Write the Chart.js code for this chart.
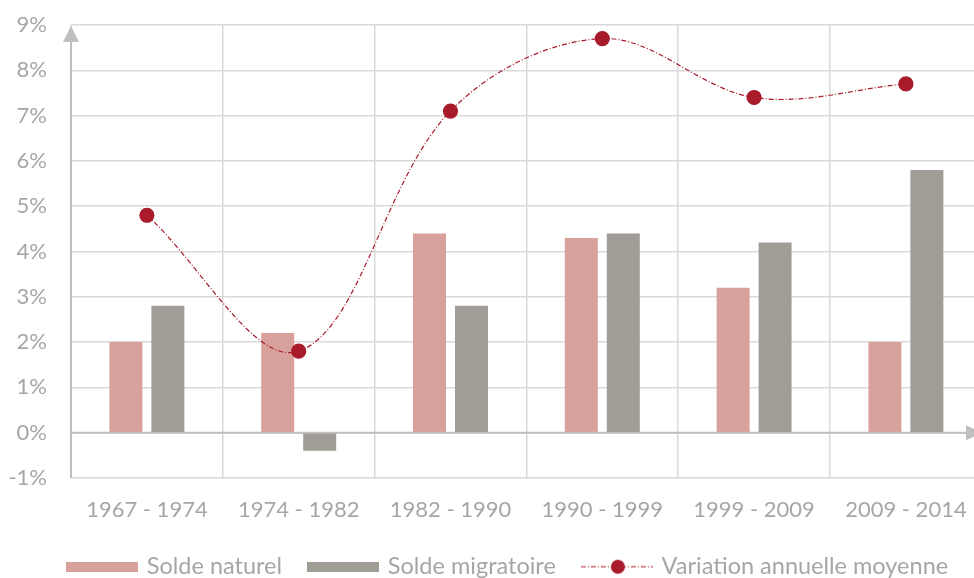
<!DOCTYPE html>
<html>
<head>
<meta charset="utf-8">
<script src="https://cdn.jsdelivr.net/npm/chart.js@4/dist/chart.umd.min.js"></script>
<style>
  html, body { margin: 0; padding: 0; background: #fff; overflow: hidden; }
  #wrap { width: 974px; height: 578px; overflow: hidden; }
  #box { width: 990px; height: 578px; position: relative; }
</style>
</head>
<body>
<div id="wrap"><div id="box"><canvas id="c"></canvas></div></div>
<script>
// Périodes intercensitaires
const periods = ['1967 - 1974', '1974 - 1982', '1982 - 1990', '1990 - 1999', '1999 - 2009', '2009 - 2014'];
// Composantes de la variation (en %)
const soldeNaturel = [2.0, 2.2, 4.4, 4.3, 3.2, 2.0];
const soldeMigratoire = [2.8, -0.4, 2.8, 4.4, 4.2, 5.8];
const variationAnnuelle = [4.8, 1.8, 7.1, 8.7, 7.4, 7.7];
// Graduations de l'axe vertical
const yTickValues = [-1, 0, 1, 2, 3, 4, 5, 6, 7, 8, 9];
const yTickLabels = ['-1%', '0%', '1%', '2%', '3%', '4%', '5%', '6%', '7%', '8%', '9%'];

const PINK = '#d9a19b';
const GREY = '#a09d96';
const RED = '#a81b2b';
const TEXT = '#a6a6a6';
const GRID = '#d9d9d9';
const AXIS = '#bfbfbf';
const FONT = 'Lato, "Open Sans", sans-serif';
const LEGEND_HEIGHT = 54;

// Legend icons
function boxIcon(color) {
  const c = document.createElement('canvas');
  c.width = 72; c.height = 10;
  const g = c.getContext('2d');
  g.fillStyle = color;
  g.fillRect(0, 0, 72, 10);
  return c;
}
function lineIcon() {
  const c = document.createElement('canvas');
  c.width = 72; c.height = 16;
  const g = c.getContext('2d');
  g.strokeStyle = RED;
  g.lineWidth = 1.2;
  g.setLineDash([5, 2, 1, 2]);
  g.beginPath(); g.moveTo(0, 8); g.lineTo(72, 8); g.stroke();
  g.setLineDash([]);
  g.fillStyle = RED;
  g.beginPath(); g.arc(37, 8, 7, 0, Math.PI * 2); g.fill();
  return c;
}
const legendIcons = [boxIcon(PINK), boxIcon(GREY), lineIcon()];

// Axes with arrowheads, legend placement
const arrowAxes = {
  id: 'arrowAxes',
  afterLayout(chart) {
    const lg = chart.legend;
    lg.left += 41; lg.right += 41;
    lg.top += 3; lg.bottom += 3;
  },
  beforeDatasetsDraw(chart) {
    const { ctx, chartArea: a, scales: { y } } = chart;
    const y0 = y.getPixelForValue(0);
    ctx.save();
    ctx.strokeStyle = AXIS;
    ctx.fillStyle = AXIS;
    ctx.lineWidth = 2;
    // vertical axis
    ctx.beginPath();
    ctx.moveTo(a.left, a.bottom);
    ctx.lineTo(a.left, a.top + 14);
    ctx.stroke();
    ctx.beginPath();
    ctx.moveTo(a.left, a.top + 1);
    ctx.lineTo(a.left - 8, a.top + 17);
    ctx.lineTo(a.left + 8, a.top + 17);
    ctx.closePath();
    ctx.fill();
    // horizontal axis at 0 %
    const tip = 982;
    ctx.beginPath();
    ctx.moveTo(a.left, y0);
    ctx.lineTo(tip - 14, y0);
    ctx.stroke();
    ctx.beginPath();
    ctx.moveTo(tip, y0);
    ctx.lineTo(tip - 16, y0 - 7.5);
    ctx.lineTo(tip - 16, y0 + 7.5);
    ctx.closePath();
    ctx.fill();
    ctx.restore();
  }
};

const chart = new Chart(document.getElementById('c'), {
  type: 'bar',
  data: {
    labels: periods,
    datasets: [
      {
        label: 'Solde naturel',
        data: soldeNaturel,
        backgroundColor: PINK,
        categoryPercentage: 0.553,
        barPercentage: 0.786,
        order: 2
      },
      {
        label: 'Solde migratoire',
        data: soldeMigratoire,
        backgroundColor: GREY,
        categoryPercentage: 0.553,
        barPercentage: 0.786,
        order: 2
      },
      {
        type: 'line',
        label: 'Variation annuelle moyenne',
        data: variationAnnuelle,
        borderColor: RED,
        borderWidth: 1.2,
        borderDash: [5, 2, 1, 2],
        backgroundColor: RED,
        pointBackgroundColor: RED,
        pointBorderColor: RED,
        pointRadius: 7,
        pointHoverRadius: 7,
        tension: 0.35,
        fill: false,
        order: 1
      }
    ]
  },
  options: {
    responsive: true,
    maintainAspectRatio: false,
    animation: false,
    events: [],
    layout: { padding: { left: 0, right: 5, top: 25, bottom: 0 } },
    plugins: {
      tooltip: { enabled: false },
      legend: {
        position: 'bottom',
        align: 'start',
        labels: {
          color: TEXT,
          font: { family: FONT, size: 23.5 },
          usePointStyle: true,
          pointStyleWidth: 66,
          boxHeight: 15,
          padding: 28,
          generateLabels(chart) {
            return chart.data.datasets.map((ds, i) => ({
              text: ds.label,
              pointStyle: legendIcons[i],
              fillStyle: 'transparent',
              strokeStyle: 'transparent',
              lineWidth: 0,
              fontColor: TEXT,
              datasetIndex: i,
              hidden: false
            }));
          }
        }
      }
    },
    scales: {
      x: {
        afterFit(scale) { scale.height = 46; },
        grid: { color: GRID, lineWidth: 1.5, drawTicks: false, offset: true },
        border: { display: false },
        ticks: { color: TEXT, font: { family: FONT, size: 22 }, padding: 19, maxRotation: 0 }
      },
      y: {
        min: -1,
        max: 9,
        afterBuildTicks(scale) {
          scale.ticks = yTickValues.map(v => ({ value: v }));
        },
        afterFit(scale) {
          scale.width = 71;
          scale.paddingTop = 0;
          scale.paddingBottom = 0;
        },
        grid: { color: GRID, lineWidth: 1.5, drawTicks: false },
        border: { display: false },
        ticks: {
          color: TEXT,
          font: { family: FONT, size: 22 },
          padding: 24,
          callback: (v) => yTickLabels[yTickValues.indexOf(v)]
        }
      }
    }
  },
  plugins: [arrowAxes]
});

// Fixed legend band height below the axis labels
const legendFit = chart.legend.fit.bind(chart.legend);
chart.legend.fit = function () {
  legendFit();
  this.height = LEGEND_HEIGHT;
};
chart.update();
</script>
</body>
</html>
